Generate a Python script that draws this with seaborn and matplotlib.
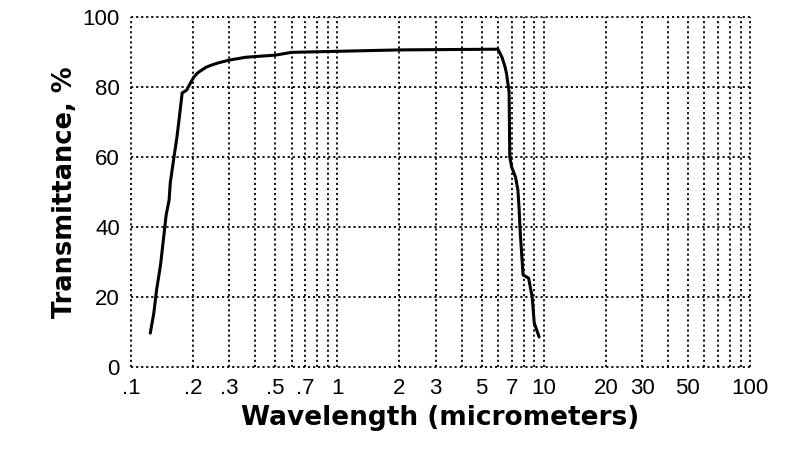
import numpy as np
import pandas as pd
import matplotlib
matplotlib.use("Agg")
import matplotlib.pyplot as plt
import seaborn as sns
from matplotlib.ticker import FixedLocator, NullFormatter

# Data
wavelength = [0.124, 0.129, 0.133, 0.139, 0.144, 0.148, 0.153, 0.155, 0.16, 0.167,
              0.172, 0.177, 0.186, 0.194, 0.202, 0.21, 0.221, 0.232, 0.247, 0.265,
              0.3, 0.36, 0.5, 0.6, 2.0, 6.0, 6.1, 6.3, 6.5, 6.6, 6.8, 6.85, 7.0,
              7.3, 7.5, 7.6, 7.7, 7.95, 8.45, 8.8, 9.0, 9.5]
transmittance = [9.7, 15.4, 22.0, 29.1, 37.1, 43.4, 47.7, 52.6, 58.3, 65.7,
                 72.0, 78.3, 79.1, 81.1, 82.9, 84.0, 84.9, 85.7, 86.3, 86.9,
                 87.7, 88.5, 89.1, 89.9, 90.6, 90.8, 90.0, 88.3, 85.7, 84.0, 78.6, 60.0, 57.1,
                 54.3, 50.6, 45.4, 38.3, 26.3, 25.4, 20.0, 12.6, 8.6]

x_ticks = [0.1, 0.2, 0.3, 0.5, 0.7, 1, 2, 3, 5, 7, 10, 20, 30, 50, 100]
x_tick_labels = ['.1', '.2', '.3', '.5', '.7', '1', '2', '3', '5', '7', '10', '20', '30', '50', '100']
y_ticks = [0, 20, 40, 60, 80, 100]

df = pd.DataFrame({"wl": wavelength, "T": transmittance})

sns.set_style("white")
plt.rcParams['font.family'] = ['Liberation Sans', 'DejaVu Sans']

fig = plt.figure(figsize=(8, 4.55), dpi=100)
ax = fig.add_axes([131/800, 1 - 367/455, (750 - 131)/800, (367 - 17)/455])

sns.lineplot(data=df, x="wl", y="T", ax=ax, color="black", linewidth=2.2, sort=False)

ax.set_xscale("log")
ax.set_xlim(0.1, 100)
ax.set_ylim(0, 100)

ax.xaxis.set_major_locator(FixedLocator(x_ticks))
ax.set_xticklabels(x_tick_labels)
minor = [m * 10.0**d for d in (-1, 0, 1) for m in range(1, 10)] + [100]
ax.xaxis.set_minor_locator(FixedLocator(minor))
ax.xaxis.set_minor_formatter(NullFormatter())
ax.set_yticks(y_ticks)

for s in ax.spines.values():
    s.set_visible(False)

grid_kw = dict(color="black", linestyle=(0, (1.2, 1.6)), linewidth=1.3)
ax.grid(True, which="both", axis="x", **grid_kw)
ax.grid(True, which="major", axis="y", **grid_kw)
for gl in ax.get_xgridlines() + ax.get_ygridlines():
    gl.set_clip_on(False)

ax.tick_params(axis="both", which="both", length=0, labelsize=16, colors="black")
ax.tick_params(axis="x", pad=8)
ax.tick_params(axis="y", pad=8)

ax.set_xlabel("Wavelength (micrometers)", fontsize=19, fontweight="bold",
              family="DejaVu Sans", labelpad=4, color="black")
ax.set_ylabel("Transmittance, %", fontsize=18.5, fontweight="bold",
              family="DejaVu Sans", labelpad=3, color="black")

fig.savefig("out.png", dpi=100, facecolor="white")
